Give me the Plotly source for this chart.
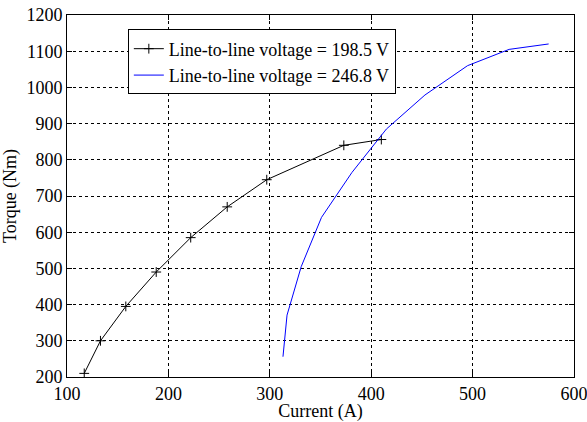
import plotly.graph_objects as go

# Series: Line-to-line voltage = 198.5 V
i_198 = [117, 133, 158, 188, 222, 258, 297, 373, 410]
t_198 = [210, 300, 395, 490, 585, 670, 745, 840, 856]

# Series: Line-to-line voltage = 246.8 V
i_246 = [313, 317, 331, 351, 381, 415, 453, 495, 536, 575]
t_246 = [256, 371, 505, 641, 765, 885, 979, 1060, 1105, 1120]

x_ticks = [100, 200, 300, 400, 500, 600]
y_ticks = [200, 300, 400, 500, 600, 700, 800, 900, 1000, 1100, 1200]

font = "Liberation Serif"

fig = go.Figure()
fig.add_trace(go.Scatter(
    x=i_198, y=t_198, mode="lines+markers",
    name="Line-to-line voltage = 198.5 V",
    line=dict(color="black", width=1),
    marker=dict(symbol="cross-thin", size=7, line=dict(color="black", width=1), color="black"),
))
fig.add_trace(go.Scatter(
    x=i_246, y=t_246, mode="lines",
    name="Line-to-line voltage = 246.8 V",
    line=dict(color="#0000ff", width=1),
))

axis_common = dict(
    showline=True, linecolor="black", linewidth=1, mirror="ticks",
    ticks="inside", ticklen=5, tickcolor="black",
    showgrid=True, gridcolor="black", gridwidth=1, griddash="3px,3px",
    zeroline=False, tickfont=dict(family=font, size=18, color="black"),
    ticklabeloverflow="allow",
)

fig.update_xaxes(range=[100, 600], tickvals=x_ticks,
                 title=dict(text="Current (A)", font=dict(family=font, size=18, color="black"), standoff=0),
                 **axis_common)
fig.update_yaxes(range=[200, 1200], tickvals=y_ticks,
                 title=dict(text="Torque (Nm)", font=dict(family=font, size=18, color="black"), standoff=6),
                 **axis_common)

fig.update_layout(
    width=587, height=422,
    margin=dict(l=67, r=13, t=15, b=45, autoexpand=False),
    paper_bgcolor="white", plot_bgcolor="white",
    font=dict(family=font, size=18, color="black"),
    legend=dict(
        x=0.12, y=0.96, xanchor="left", yanchor="top",
        bgcolor="white", bordercolor="black", borderwidth=1,
        font=dict(family=font, size=18, color="black"),
        tracegroupgap=0, itemwidth=30, entrywidth=235, entrywidthmode="pixels",
    ),
    showlegend=True,
)

fig.write_html("out.html")
